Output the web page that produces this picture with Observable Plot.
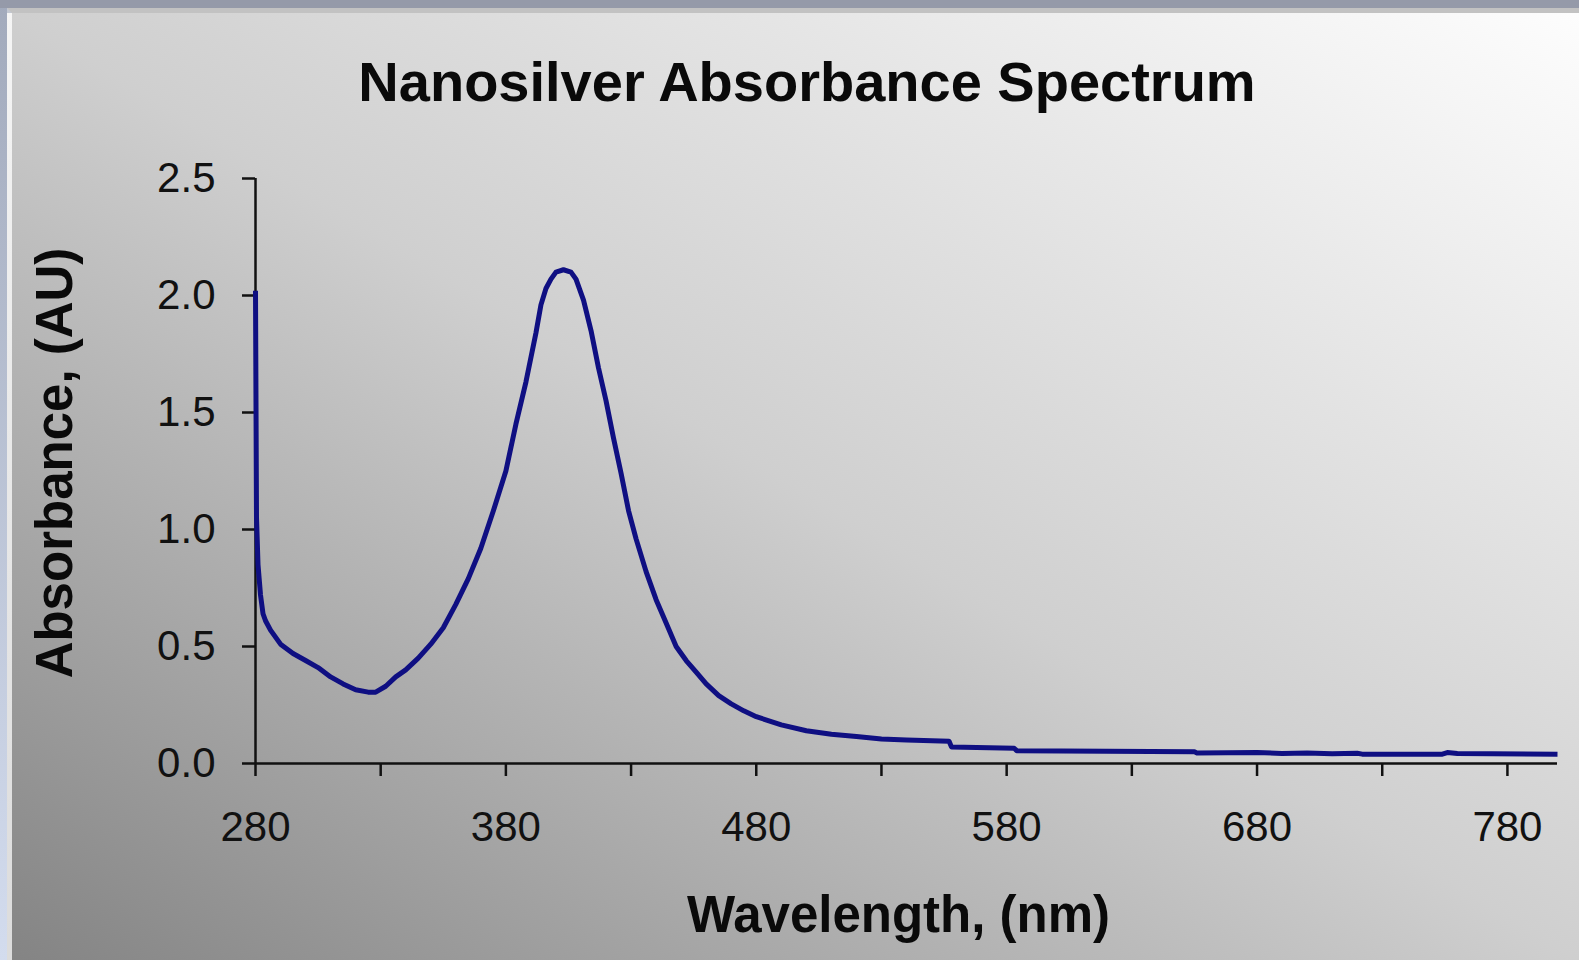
<!DOCTYPE html>
<html>
<head>
<meta charset="utf-8">
<script src="https://cdn.jsdelivr.net/npm/d3@7"></script>
<script src="https://cdn.jsdelivr.net/npm/@observablehq/plot@0.6"></script>
<style>
  html, body { margin: 0; padding: 0; }
  body {
    width: 1579px; height: 960px; overflow: hidden; position: relative;
    background: linear-gradient(to bottom, #a2aabc, #d3dcee);
    font-family: "Liberation Sans", Arial, sans-serif;
  }
  #topbar { position: absolute; left: 0; top: 0; width: 1579px; height: 8px; background: #959aa9; }
  #panel {
    position: absolute; left: 7px; top: 8px; width: 1572px; height: 952px;
    box-sizing: border-box;
    border-top: 5px solid #c2c2c2;
    border-left: 5px solid rgba(235,235,235,0.45);
    background: linear-gradient(to top right, #848484 0%, #cfcfcf 50%, #fdfdfd 100%);
  }
  #title {
    position: absolute; left: 807px; top: 54px; transform: translateX(-50%);
    margin: 0; white-space: nowrap;
    font: bold 56px/56px "Liberation Sans", Arial, sans-serif; color: #0a0a0a;
  }
  #chart { position: absolute; left: 0; top: 130px; }
</style>
</head>
<body>
<div id="topbar"></div>
<div id="panel"></div>
<h1 id="title">Nanosilver Absorbance Spectrum</h1>
<div id="chart"></div>
<script>
const wavelength = [280, 280.4, 281, 282, 283, 284, 286, 290, 295, 300, 305, 310, 315, 320, 325, 328, 332, 336, 340, 345, 350, 355, 360, 365, 370, 375, 380, 384, 388, 392, 394, 396, 398, 400, 403, 406, 408, 411, 414, 417, 420, 423, 426, 429, 432, 436, 440, 444, 448, 452, 456, 460, 465, 470, 475, 480, 490, 500, 510, 520, 530, 540, 557, 558, 583, 584, 620, 655, 656, 680, 690, 700, 710, 720, 722, 754, 756, 760, 800];
const absorbance = [2.02, 1.05, 0.85, 0.72, 0.64, 0.61, 0.57, 0.51, 0.47, 0.44, 0.41, 0.37, 0.34, 0.315, 0.305, 0.305, 0.33, 0.37, 0.40, 0.45, 0.51, 0.58, 0.68, 0.79, 0.92, 1.08, 1.25, 1.45, 1.63, 1.84, 1.96, 2.03, 2.07, 2.10, 2.11, 2.10, 2.07, 1.98, 1.85, 1.69, 1.55, 1.39, 1.24, 1.08, 0.96, 0.82, 0.70, 0.60, 0.50, 0.44, 0.39, 0.34, 0.29, 0.255, 0.225, 0.20, 0.165, 0.14, 0.125, 0.115, 0.105, 0.10, 0.095, 0.07, 0.065, 0.055, 0.052, 0.05, 0.045, 0.047, 0.043, 0.045, 0.042, 0.044, 0.040, 0.040, 0.047, 0.043, 0.040];
const xTicks = [280, 330, 380, 430, 480, 530, 580, 630, 680, 730, 780];
const xTickLabels = ["280", "", "380", "", "480", "", "580", "", "680", "", "780"];
const yTicks = [0, 0.5, 1.0, 1.5, 2.0, 2.5];
const yTickLabels = ["0.0", "0.5", "1.0", "1.5", "2.0", "2.5"];
const xLabel = "Wavelength, (nm)";
const yLabel = "Absorbance, (AU)";

const rows = wavelength.map((w, i) => ({w, a: absorbance[i]}));

const chart = Plot.plot({
  width: 1579,
  height: 830,
  marginLeft: 255,
  marginRight: 22,
  marginTop: 48,
  marginBottom: 197,
  style: {background: "transparent", color: "#111", fontFamily: "'Liberation Sans', Arial, sans-serif", fontSize: "42px"},
  x: {domain: [280, 800]},
  y: {domain: [0, 2.5]},
  marks: [
    Plot.axisX({ticks: xTicks, tickFormat: d => xTickLabels[xTicks.indexOf(d)], tickSize: 13, tickPadding: 35, strokeWidth: 2.5, fontSize: 42, label: null}),
    Plot.axisY({ticks: yTicks, tickFormat: d => yTickLabels[yTicks.indexOf(d)], tickSize: 13, tickPadding: 27, strokeWidth: 2.5, fontSize: 42, label: null}),
    Plot.ruleY([0], {stroke: "#111", strokeWidth: 2.5}),
    Plot.ruleX([280], {stroke: "#111", strokeWidth: 2.5}),
    Plot.line(rows, {x: "w", y: "a", stroke: "#0f0f82", strokeWidth: 5, strokeLinejoin: "round", strokeLinecap: "butt"}),
    Plot.text([xLabel], {text: d => d, frameAnchor: "bottom", dx: -8, dy: 168, lineAnchor: "bottom", fontSize: 51, fontWeight: "bold", fill: "#0a0a0a"}),
    Plot.text([yLabel], {text: d => d, frameAnchor: "left", dx: -200, dy: -8, rotate: -90, textAnchor: "middle", lineAnchor: "middle", fontSize: 51, fontWeight: "bold", fill: "#0a0a0a"})
  ]
});
document.getElementById("chart").appendChild(chart);
</script>
</body>
</html>
